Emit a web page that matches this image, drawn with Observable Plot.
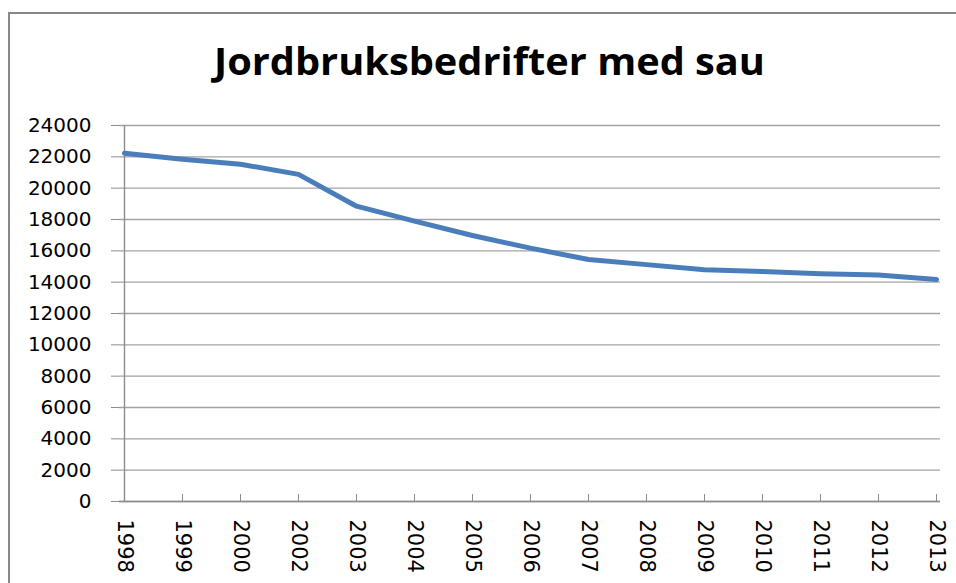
<!DOCTYPE html>
<html>
<head>
<meta charset="utf-8">
<script src="https://cdn.jsdelivr.net/npm/d3@7"></script>
<script src="https://cdn.jsdelivr.net/npm/@observablehq/plot@0.6"></script>
<style>
  html, body { margin: 0; padding: 0; background: #fff; }
  body { width: 956px; height: 583px; overflow: hidden; position: relative; }
  #frame { position: absolute; left: 8px; top: 12px; width: 2000px; height: 2000px;
           border-left: 2.5px solid #878787; border-top: 2.5px solid #878787; }
  #title { position: absolute; left: 214px; top: 41px; white-space: nowrap;
           font-family: "Open Sans", sans-serif; font-weight: bold; font-size: 38px;
           line-height: 1; color: #000; transform-origin: 0 0; }
  #chart { position: absolute; left: 0; top: 0; }
</style>
</head>
<body>
<div id="frame"></div>
<div id="title">Jordbruksbedrifter med sau</div>
<div id="chart"></div>
<script>
const years = ["1998","1999","2000","2002","2003","2004","2005","2006","2007","2008","2009","2010","2011","2012","2013"];
const farms = [22230, 21850, 21530, 20880, 18850, 17900, 16980, 16170, 15450, 15120, 14790, 14680, 14530, 14450, 14170];
const yTicks = [0, 2000, 4000, 6000, 8000, 10000, 12000, 14000, 16000, 18000, 20000, 22000, 24000];

const data = years.map((y, i) => ({year: y, value: farms[i]}));

const plot = Plot.plot({
  width: 956,
  height: 583,
  marginLeft: 119,
  marginRight: 16,
  marginTop: 125,
  marginBottom: 82,
  style: {background: "transparent", fontFamily: "DejaVu Sans, sans-serif", overflow: "visible", color: "#000"},
  x: {type: "point", domain: years, padding: 0},
  y: {domain: [0, 24000]},
  marks: [
    Plot.gridY(yTicks, {stroke: "#a3a3a3", strokeOpacity: 1, strokeWidth: 1.4}),
    Plot.axisY(yTicks, {tickSize: 8, tickPadding: 20, tickFormat: d => String(d), fontSize: 20, stroke: "#8c8c8c", label: null}),
    Plot.axisX({tickSize: 7, dy: -7, text: null, stroke: "#8c8c8c", label: null}),
    Plot.axisX({tickSize: 0, tickPadding: 18, tickRotate: 90, fontSize: 21, label: null}),
    Plot.ruleY([0], {stroke: "#8c8c8c", strokeWidth: 1.4}),
    Plot.ruleX([years[0]], {stroke: "#8c8c8c", strokeWidth: 1.4}),
    Plot.line(data, {x: "year", y: "value", stroke: "#4a7ebb", strokeWidth: 5, strokeLinejoin: "round", strokeLinecap: "round"})
  ]
});
document.getElementById("chart").appendChild(plot);

const t = document.getElementById("title");
const w = t.getBoundingClientRect().width;
t.style.transform = `scaleX(${551 / w})`;
</script>
</body>
</html>
